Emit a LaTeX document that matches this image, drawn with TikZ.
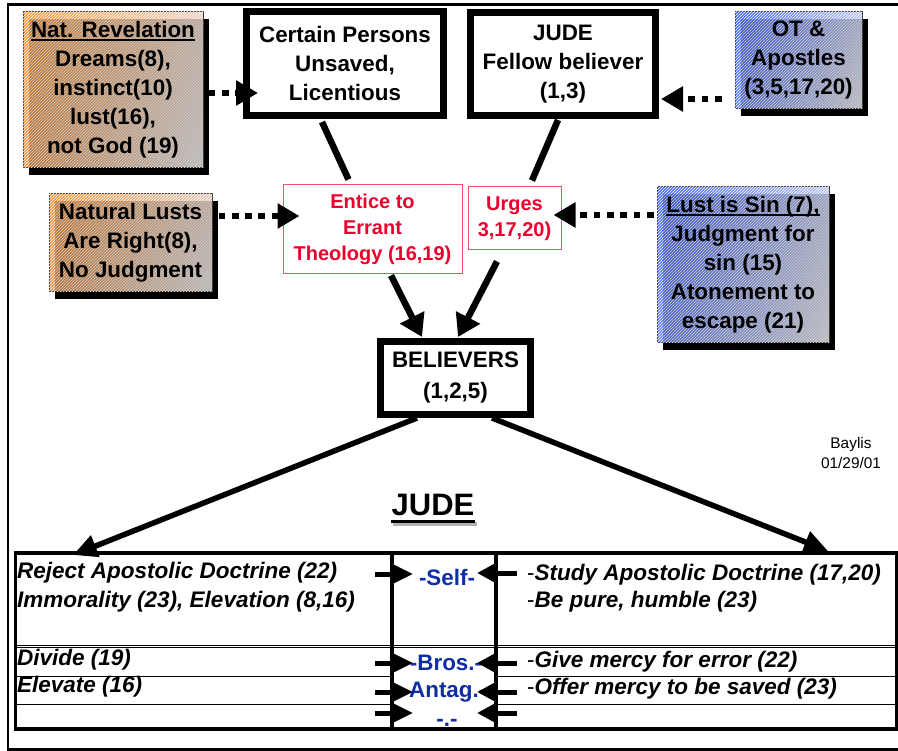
\documentclass[tikz,border=0pt]{standalone}
\usepackage{fontspec}
\setmainfont{Liberation Sans}
\usetikzlibrary{arrows.meta,shadows,shadings,patterns,calc}

\definecolor{redtxt}{RGB}{235,0,45}
\definecolor{redbdr}{RGB}{240,80,110}
\definecolor{bluetxt}{RGB}{15,45,165}
\definecolor{gborder}{RGB}{60,55,50}
\definecolor{oUL}{RGB}{248,155,60}
\definecolor{oUR}{RGB}{236,205,188}
\definecolor{oLL}{RGB}{238,150,75}
\definecolor{oLR}{RGB}{236,231,231}
\definecolor{pUL}{RGB}{245,148,55}
\definecolor{pUR}{RGB}{232,200,185}
\definecolor{pLL}{RGB}{232,145,75}
\definecolor{pLR}{RGB}{232,229,229}
\definecolor{bUL}{RGB}{70,105,252}
\definecolor{bUR}{RGB}{185,196,242}
\definecolor{bLL}{RGB}{100,130,248}
\definecolor{bLR}{RGB}{232,232,242}
\newsavebox\ulsave
\newcommand\ulbox[1]{\sbox\ulsave{#1}\rlap{\rule[-3.6pt]{\wd\ulsave}{2pt}}\usebox\ulsave}
\newcommand\bigfnt{\fontsize{22.4}{29}\selectfont\bfseries}

\tikzset{
  thickbox/.style={draw, line width=7pt, fill=white, align=center, font=\bigfnt, inner sep=0pt},
  gradbox/.style={draw=gborder, line width=1pt, align=center, font=\bigfnt, inner sep=0pt,
    drop shadow={shadow xshift=6pt, shadow yshift=-7pt, fill=black, opacity=1},
    postaction={pattern=north east lines, pattern color=white, fill opacity=0.1}},
  orangebox/.style={gradbox, upper left=oUL, upper right=oUR, lower left=oLL, lower right=oLR},
  peachbox/.style={gradbox, upper left=pUL, upper right=pUR, lower left=pLL, lower right=pLR},
  bluebox/.style={gradbox, upper left=bUL, upper right=bUR, lower left=bLL, lower right=bLR},
  inshadow/.style={fill=black, fill opacity=0.2},
  redbox/.style={draw=redbdr, line width=1pt, fill=white, text=redtxt, align=center,
    font=\fontsize{20}{26}\selectfont\bfseries, inner sep=0pt},
  fatline/.style={line width=6.5pt},
  fatarrow/.style={line width=6.5pt, -{Triangle[length=22pt,width=26pt]}},
  bigarrow/.style={line width=5.5pt, -{Triangle[length=24pt,width=22pt]}},
  dotarrow/.style={line width=6.5pt, dash pattern=on 6.7pt off 6.6pt, -{Triangle[length=22pt,width=24pt]}},
  tabtxt/.style={anchor=west, inner sep=0pt, font=\fontsize{22.5}{27}\selectfont\bfseries\itshape},
  midtxt/.style={inner sep=0pt, text=bluetxt, font=\fontsize{22.4}{27}\selectfont\bfseries},
  tarrowL/.style={line width=5pt, -{Triangle[length=21pt,width=19pt]}},
  tarrowR/.style={line width=5pt, -{Triangle[length=20pt,width=20pt]}},
  rowline/.style={line width=0.9pt}
}

\begin{document}
\begin{tikzpicture}[x=1pt,y=-1pt]
\useasboundingbox (0,0) rectangle (898,751);
\fill[white] (0,0) rectangle (898,751);
% outer frame
\draw[line width=2.5pt] (7.8,4.5) rectangle (905,749.5);

% top boxes
\node[orangebox, minimum width=180pt, minimum height=156pt] (nat) at (113,90)
  {\ulbox{Nat. Revelation}\\Dreams(8),\\instinct(10)\\lust(16),\\not God (19)};
\fill[inshadow] ($(nat.north west)+(6.5,7.5)$) rectangle ($(nat.south east)+(-1,-1)$);
\node[thickbox, minimum width=197pt, minimum height=104pt] (cp) at (345,63.5)
  {Certain Persons\\Unsaved,\\Licentious};
\node[thickbox, minimum width=185pt, minimum height=103pt] (jude) at (563,64)
  {JUDE\\Fellow believer\\(1,3)};
\node[bluebox, minimum width=127pt, minimum height=97pt] (ot) at (798.5,60.5)
  {OT \&\\Apostles\\(3,5,17,20)};
\fill[inshadow] ($(ot.north west)+(6.5,7.5)$) rectangle ($(ot.south east)+(-1,-1)$);

% middle boxes
\node[redbox, minimum width=179pt, minimum height=89pt] (entice) at (372.5,229.5)
  {Entice to\\Errant\\Theology (16,19)};
\node[redbox, minimum width=93pt, minimum height=63pt] (urges) at (514.5,218.5)
  {Urges\\3,17,20)};
\node[peachbox, minimum width=163pt, minimum height=98pt] (lusts) at (130.5,243)
  {Natural Lusts\\Are Right(8),\\No Judgment};
\fill[inshadow] ($(lusts.north west)+(6.5,7.5)$) rectangle ($(lusts.south east)+(-1,-1)$);
\node[bluebox, minimum width=172pt, minimum height=156pt] (sin) at (743,265)
  {\ulbox{Lust is Sin (7),}\\Judgment for\\sin (15)\\Atonement to\\escape (21)};
\fill[inshadow] ($(sin.north west)+(6.5,7.5)$) rectangle ($(sin.south east)+(-1,-1)$);

\node[thickbox, minimum width=150pt, minimum height=73pt,
  font=\fontsize{22.4}{31}\selectfont\bfseries] (bel) at (455.5,378)
  {BELIEVERS\\(1,2,5)};

% connectors
\draw[dotarrow] ($(nat.east)+(5,3)$) -- ($(nat.east -| cp.west)+(15,3)$);
\draw[dotarrow] ($(ot.west)+(-13,38.5)$) -- ($(ot.west -| jude.east)+(2,38.5)$);
\draw[dotarrow] ($(lusts.east)+(6,-27)$) -- ($(lusts.east -| entice.west)+(17,-27)$);
\draw[dotarrow] ($(sin.west)+(-3,-50)$) -- ($(sin.west -| urges.east)+(-8,-50)$);

\draw[fatline] ($(cp.south)+(-23,3)$) -- ($(entice.north)+(-24,-5)$);
\draw[fatline] ($(jude.south)+(-5,1)$) -- ($(urges.north)+(17.5,-6)$);
\draw[fatarrow] ($(entice.south)+(18.5,1)$) -- ($(bel.north)+(-33.5,-1)$);
\draw[fatarrow] ($(urges.south)+(-17.5,11)$) -- ($(bel.north)+(2.5,-1)$);

% signature
\node[align=center, font=\fontsize{15.4}{20}\selectfont] (baylis) at (851,453) {Baylis\\01/29/01};

% title
\node[font=\fontsize{31}{36}\selectfont\bfseries, inner sep=0pt, anchor=base] (title) at (433,515) {JUDE};
\draw[line width=3.5pt, black!30] ($(title.base west)+(2,9)$) -- ($(title.base east)+(2,9)$);
\draw[line width=3.5pt] ($(title.base west)+(0,6.5)$) -- ($(title.base east)+(0,6.5)$);

% table
\node[draw, line width=3.5pt, minimum width=881pt, minimum height=176pt, inner sep=0pt] (tbl) at (455.9,641) {};
\draw[line width=4pt] (392,553) -- (392,729);
\draw[line width=4pt] (496,553) -- (496,729);
\draw[rowline] (15,645) -- (896,645);
\draw[rowline] (15,647.6) -- (896,647.6);
\draw[rowline] (15,676) -- (392,676);
\draw[rowline] (496,676) -- (896,676);
\draw[rowline] (15,704) -- (392,704);
\draw[rowline] (496,704) -- (896,704);

\node[tabtxt] (l1) at (17,573) {Reject Apostolic Doctrine (22)};
\node[tabtxt] (l2) at (17,602) {Immorality (23), Elevation (8,16)};
\node[tabtxt] (l3) at (17,660) {Divide (19)};
\node[tabtxt] (l4) at (17,687) {Elevate (16)};

\node[tabtxt] (r1) at (527,575) {{\mdseries\upshape -}Study Apostolic Doctrine (17,20)};
\node[tabtxt] (r2) at (527,602) {{\mdseries\upshape -}Be pure, humble (23)};
\node[tabtxt] (r3) at (527,662) {{\mdseries\upshape -}Give mercy for error (22)};
\node[tabtxt] (r4) at (527,689) {{\mdseries\upshape -}Offer mercy to be saved (23)};

\node[midtxt] (m1) at (447,577) {-Self-};
\node[midtxt] (m2) at (446,663) {-Bros.-};
\node[midtxt] (m3) at (444,692) {-Antag.-};
\node[midtxt] (m4) at (447,723) {-.-};

\foreach \yy in {574,663,692,713} \draw[tarrowL] (375,\yy) -- (413,\yy);
\foreach \yy in {573,663,692,713} \draw[tarrowR] (517,\yy) -- (477,\yy);

% arrows to table
\coordinate (tipL) at (73,555);
\coordinate (tipR) at (828,551);
\draw[bigarrow] ($(bel.south)+(-38.5,0)$) -- (tipL);
\draw[bigarrow] ($(bel.south)+(36.5,0)$) -- (tipR);
\end{tikzpicture}
\end{document}
